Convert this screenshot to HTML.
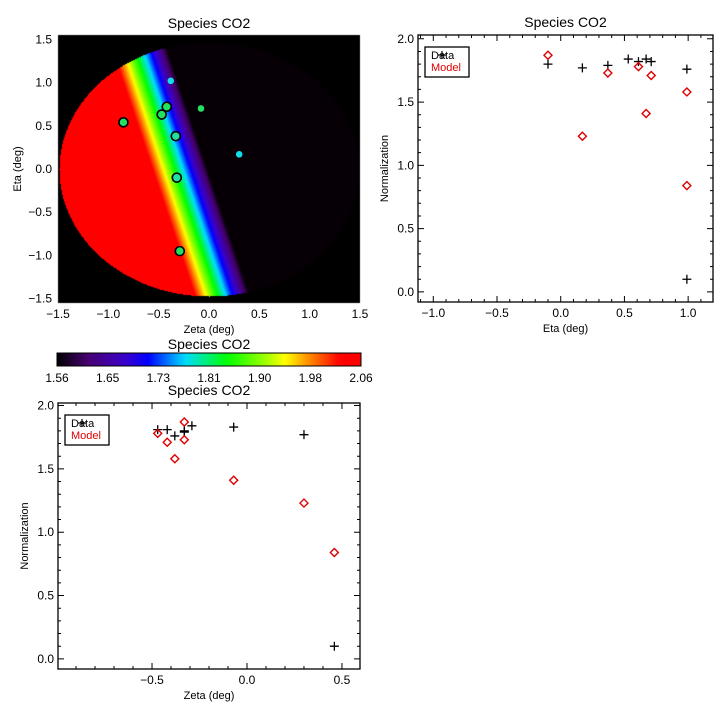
<!DOCTYPE html>
<html><head><meta charset="utf-8"><style>
html,body{margin:0;padding:0;background:#fff;}
#wrap{position:relative;width:720px;height:720px;}
canvas,svg{position:absolute;left:0;top:0;}
text{font-family:"Liberation Sans",sans-serif;}
</style></head><body>
<div id="wrap">
<canvas id="map" width="720" height="720"></canvas>
<svg id="svg" width="720" height="720"></svg>
</div>
<script>
// ---- data ----
const mapZeta = [-0.85,-0.42,-0.47,-0.33,-0.32,-0.29,-0.38,-0.08,0.30];
const mapEta = [0.54,0.72,0.63,0.38,-0.10,-0.95,1.02,0.70,0.17];
const mapColors = ['#22e060','#22e060','#22e060','#22e0a0','#22e0a0','#22e060','#11e0e8','#22e060','#11e0e8'];
const mapOutlined = [1,1,1,1,1,1,0,0,0];
const cbLabels = ['1.56','1.65','1.73','1.81','1.90','1.98','2.06'];

const etaData = [-0.10,0.17,0.37,0.53,0.61,0.67,0.71,0.99,0.99];
const etaDataVal = [1.80,1.77,1.79,1.84,1.82,1.84,1.82,1.76,0.10];
const etaModel = [-0.10,0.17,0.37,0.61,0.67,0.71,0.99,0.99];
const etaModelVal = [1.87,1.23,1.73,1.78,1.41,1.71,1.58,0.84];

const zetaData = [-0.47,-0.42,-0.38,-0.33,-0.33,-0.29,-0.07,0.30,0.46];
const zetaDataVal = [1.81,1.81,1.76,1.79,1.80,1.84,1.83,1.77,0.10];
const zetaModel = [-0.47,-0.42,-0.38,-0.33,-0.33,-0.07,0.30,0.46];
const zetaModelVal = [1.78,1.71,1.58,1.73,1.87,1.41,1.23,0.84];

const NS='http://www.w3.org/2000/svg';
const svg=document.getElementById('svg');
function el(tag,attrs,parent){const e=document.createElementNS(NS,tag);for(const k in attrs)e.setAttribute(k,attrs[k]);(parent||svg).appendChild(e);return e;}
function txt(s,x,y,attrs,parent){const e=el('text',Object.assign({x:x,y:y,'text-anchor':'middle','font-size':12},attrs||{}),parent);e.textContent=s;return e;}

const stops=[[0,0,0,0],[0.1,70,0,110],[0.22,60,0,200],[0.3,0,0,255],[0.42,0,220,255],[0.56,0,255,0],[0.68,150,255,0],[0.75,255,255,0],[0.85,255,110,0],[0.93,255,0,0],[1,255,0,0]];
function cmap(t){t=Math.max(0,Math.min(1,t));for(let i=1;i<stops.length;i++){if(t<=stops[i][0]){const a=stops[i-1],b=stops[i],f=(t-a[0])/(b[0]-a[0]||1);return [a[1]+f*(b[1]-a[1]),a[2]+f*(b[2]-a[2]),a[3]+f*(b[3]-a[3])];}}return [255,0,0];}

// ---- map panel ----
const M={x0:58,x1:360,y0:35,y1:303,zmin:-1.5,zmax:1.5,emin:-1.55,emax:1.55};
const mx=z=>M.x0+(z-M.zmin)/(M.zmax-M.zmin)*(M.x1-M.x0);
const my=e=>M.y1-(e-M.emin)/(M.emax-M.emin)*(M.y1-M.y0);
const ctx=document.getElementById('map').getContext('2d');
const img=ctx.createImageData(M.x1-M.x0,M.y1-M.y0);
const cx=209,cy=169,rx=150,ry=127;
for(let y=M.y0;y<M.y1;y++)for(let x=M.x0;x<M.x1;x++){
  const i=((y-M.y0)*(M.x1-M.x0)+(x-M.x0))*4;
  let c=[0,0,0];
  const dx=(x-cx)/rx,dy=(y-cy)/ry;
  if(dx*dx+dy*dy<=1){const s=x-0.336*(y-cy);const t=(208-s)/60;c=t<=0.03?[6,0,6]:cmap(t);}
  img.data[i]=c[0];img.data[i+1]=c[1];img.data[i+2]=c[2];img.data[i+3]=255;}
ctx.putImageData(img,M.x0,M.y0);
txt('Species CO2',209,28,{'font-size':14,});
const mapG=el('g',{});
[-1.5,-1,-0.5,0,0.5,1,1.5].forEach(v=>txt(v.toFixed(1).replace('-','\u2212'),mx(v),318,{},mapG));
[-1.5,-1,-0.5,0,0.5,1,1.5].forEach(v=>txt(v.toFixed(1).replace('-','\u2212'),52,my(v)+4,{'text-anchor':'end'},mapG));
txt('Zeta (deg)',209,333,{'font-size':11},mapG);
txt('Eta (deg)',0,0,{'font-size':11,transform:'translate(21,169) rotate(-90)'},mapG);
const mk=el('g',{});
mapZeta.forEach((z,i)=>{
  const c=el('circle',{cx:mx(z),cy:my(mapEta[i]),r:mapOutlined[i]?4.5:3.3,fill:mapColors[i],stroke:mapOutlined[i]?'#000':'none','stroke-width':1.6},mk);
  
  
});

// ---- colorbar ----
const cb=el('g',{});
txt('Species CO2',209,349,{'font-size':14},cb);
const defs=el('defs',{});
const lg=el('linearGradient',{id:'cbg',x1:0,x2:1,y1:0,y2:0},defs);
for(let k=0;k<=40;k++){const c=cmap(k/40);el('stop',{offset:k/40,'stop-color':`rgb(${c.map(Math.round).join(',')})`},lg);}
el('rect',{x:57,y:353,width:304,height:13,fill:'url(#cbg)',stroke:'#000','stroke-width':1},cb);
cbLabels.forEach((l,i)=>txt(l,57+i*304/(cbLabels.length-1),382,{},cb));

// ---- scatter panels ----
function scatter(o){
  const g=el('g',{});
  const X=v=>o.x0+(v-o.xmin)/(o.xmax-o.xmin)*(o.x1-o.x0);
  const Y=v=>o.y1-(v-o.ymin)/(o.ymax-o.ymin)*(o.y1-o.y0);
  txt('Species CO2',(o.x0+o.x1)/2,o.y0-8,{'font-size':14},g);
  el('rect',{x:o.x0,y:o.y0,width:o.x1-o.x0,height:o.y1-o.y0,fill:'none',stroke:'#000','stroke-width':1.3},g);
  let p='';
  for(let v=Math.ceil(o.xmin*10);v<=Math.floor(o.xmax*10);v++){const x=X(v/10),L=v%5===0?6:3;p+=`M${x},${o.y1}v${-L}M${x},${o.y0}v${L}`;
    if(v%5===0)txt((v/10).toFixed(1).replace('-','\u2212'),x,o.y1+15,{},g);}
  for(let v=Math.ceil(o.ymin*10);v<=Math.floor(o.ymax*10);v++){const y=Y(v/10),L=v%5===0?6:3;p+=`M${o.x0},${y}h${L}M${o.x1},${y}h${-L}`;
    if(v%5===0)txt((v/10).toFixed(1),o.x0-4,y+4,{'text-anchor':'end'},g);}
  el('path',{d:p,stroke:'#000','stroke-width':1,fill:'none'},g);
  txt(o.xlabel,(o.x0+o.x1)/2,o.y1+30,{'font-size':11},g);
  txt('Normalization',0,0,{'font-size':11,transform:`translate(${o.x0-30},${(o.y0+o.y1)/2}) rotate(-90)`},g);
  const lgd=el('g',{},g);
  el('rect',{x:o.x0+7,y:o.y0+12,width:44,height:30,fill:'#fff',stroke:'#000','stroke-width':1.3},lgd);
  el('path',{d:`M${o.x0+20},${o.y0+20}h8M${o.x0+24},${o.y0+16}v8`,stroke:'#000','stroke-width':1.2},lgd);
  txt('Data',o.x0+13,o.y0+24,{'text-anchor':'start','font-size':11},lgd);
  txt('Model',o.x0+13,o.y0+36,{'text-anchor':'start','font-size':11,fill:'#e00000'},lgd);
  o.dx.forEach((v,i)=>{const x=X(v),y=Y(o.dy[i]);
    const m=el('path',{d:`M${x-4.5},${y}h9M${x},${y-4.5}v9`,stroke:'#000','stroke-width':1.3},g);
    
    });
  o.mx.forEach((v,i)=>{const x=X(v),y=Y(o.my[i]);
    const m=el('path',{d:`M${x},${y-4}L${x+4},${y}L${x},${y+4}L${x-4},${y}Z`,stroke:'#e00000','stroke-width':1.4,fill:'none'},g);
    
    });
}
scatter({name:'eta-scatter',x0:418,x1:713,y0:35,y1:302,xmin:-1.12,xmax:1.195,ymin:-0.08,ymax:2.03,xlabel:'Eta (deg)',dx:etaData,dy:etaDataVal,mx:etaModel,my:etaModelVal});
scatter({name:'zeta-scatter',x0:58,x1:360,y0:403,y1:669,xmin:-0.995,xmax:0.595,ymin:-0.08,ymax:2.02,xlabel:'Zeta (deg)',dx:zetaData,dy:zetaDataVal,mx:zetaModel,my:zetaModelVal});
</script>
</body></html>
